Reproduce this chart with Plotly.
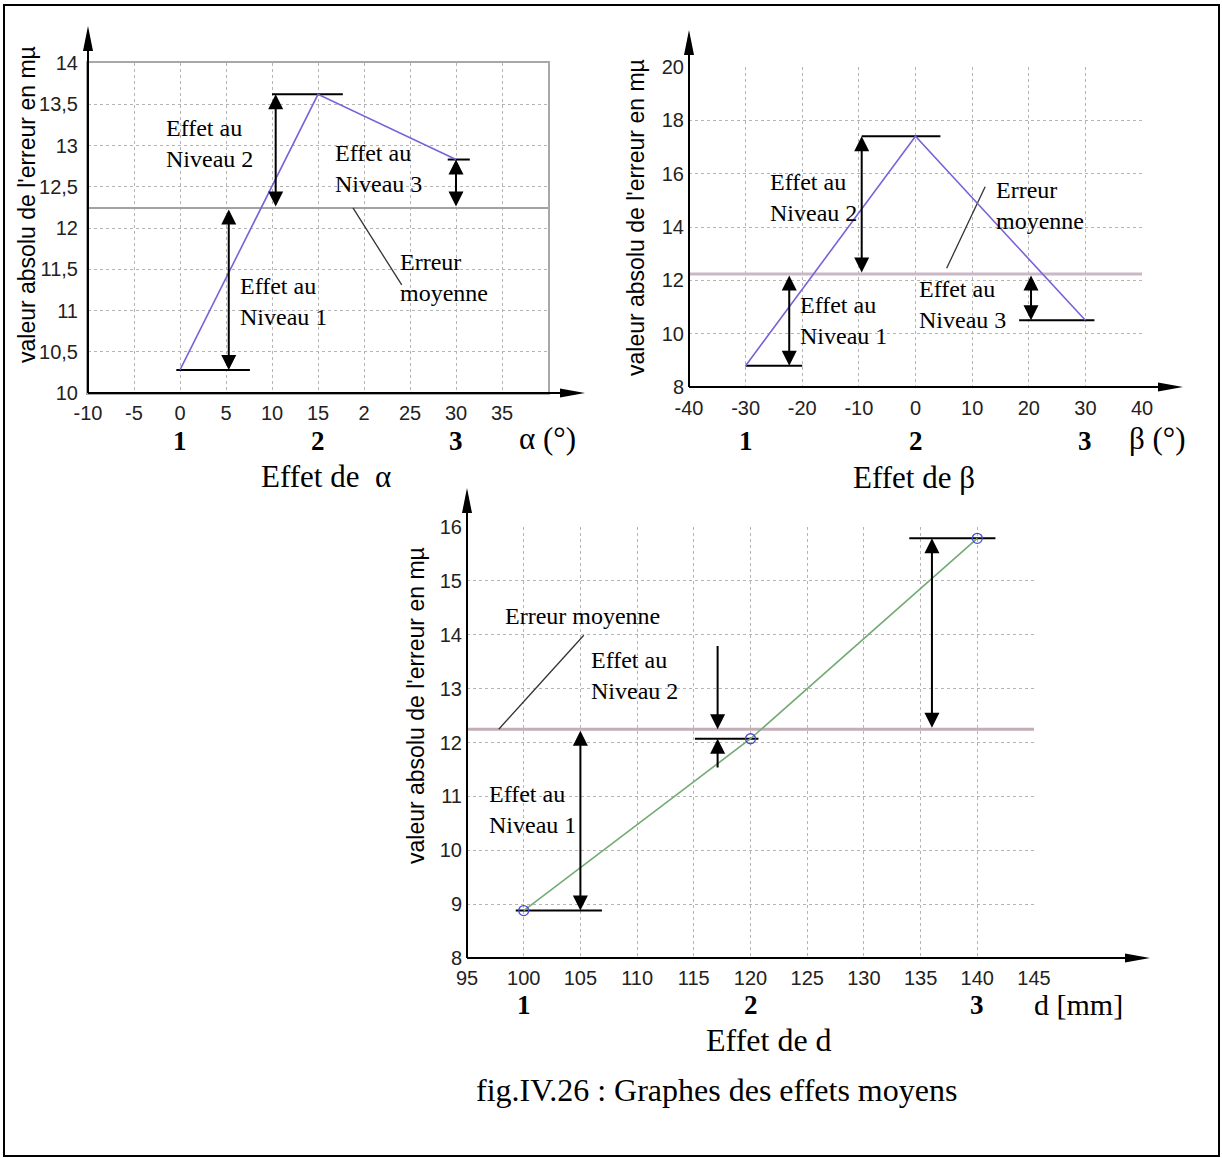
import plotly.graph_objects as go

W, H = 1222, 1158

# Mean absolute error (in µm) at the three levels of each factor
alpha_levels = [0, 15, 30]
alpha_error = [10.28, 13.62, 12.83]
beta_levels = [-30, 0, 30]
beta_error = [8.8, 17.4, 10.5]
d_levels = [100, 120, 140]
d_error = [8.88, 12.07, 15.79]
level_names = ["1", "2", "3"]

# Tick values / labels
alpha_xticks = [-10, -5, 0, 5, 10, 15, 20, 25, 30, 35]
alpha_xticktext = ["-10", "-5", "0", "5", "10", "15", "2", "25", "30", "35"]
alpha_yticks = [10, 10.5, 11, 11.5, 12, 12.5, 13, 13.5, 14]
alpha_yticktext = ["10", "10,5", "11", "11,5", "12", "12,5", "13", "13,5", "14"]
beta_xticks = [-40, -30, -20, -10, 0, 10, 20, 30, 40]
beta_yticks = [8, 10, 12, 14, 16, 18, 20]
d_xticks = [95, 100, 105, 110, 115, 120, 125, 130, 135, 140, 145]
d_yticks = [8, 9, 10, 11, 12, 13, 14, 15, 16]

SERIF = "Liberation Serif, Times New Roman, serif"
SANS = "Liberation Sans, Arial, sans-serif"


def mean(vals):
    return sum(vals) / len(vals)


def px(p):
    return p / W


def py(p):
    return 1 - p / H


# panel geometry (pixels) and axis ranges
panels = [
    dict(name="alpha", xa="x", ya="y", xpx=(88, 548), ypx=(63, 393), xr=(-10, 40), yr=(10, 14),
         levels=alpha_levels, err=alpha_error, color="#7b61d9", mean_color="#a2a2a2", mean_w=2,
         segs=[(-0.4, 7.6), (10.0, 17.7), (29.1, 31.5)], arrow_x=[5.3, 10.4, 30],
         leader=[(18.8, None), (24.1, 11.31)], xext=37, yext=37, box=True, xstand=1,
         xticks=alpha_xticks, xtt=alpha_xticktext, yticks=alpha_yticks, ytt=alpha_yticktext),
    dict(name="beta", xa="x2", ya="y2", xpx=(689, 1142), ypx=(67, 387), xr=(-40, 40), yr=(8, 20),
         levels=beta_levels, err=beta_error, color="#7b61d9", mean_color="#cbb8c6", mean_w=3,
         segs=[(-30, -20), (-9.5, 4.4), (18.3, 31.6)], arrow_x=[-22.3, -9.5, 20.4],
         leader=[(5.5, 12.45), (12.3, 15.51)], xext=41, yext=37, box=False, xstand=7,
         xticks=beta_xticks, xtt=[str(v) for v in beta_xticks], yticks=beta_yticks,
         ytt=[str(v) for v in beta_yticks]),
    dict(name="d", xa="x3", ya="y3", xpx=(467, 1034), ypx=(527, 958), xr=(95, 145), yr=(8, 16),
         levels=d_levels, err=d_error, color="#74ab74", mean_color="#c4adb8", mean_w=3,
         segs=[(99.3, 106.9), (115.1, 120.7), (134.0, 141.6)], arrow_x=[105, 117.1, 136],
         leader=[(97.8, None), (105.3, 13.99)], xext=116, yext=39, box=False, xstand=6,
         xticks=d_xticks, xtt=[str(v) for v in d_xticks], yticks=d_yticks,
         ytt=[str(v) for v in d_yticks]),
]

fig = go.Figure()
shapes = []
annotations = []
layout_axes = {}

for i, p in enumerate(panels):
    xa, ya = p["xa"], p["ya"]
    m = mean(p["err"])
    xkey = "xaxis" if i == 0 else f"xaxis{i + 1}"
    ykey = "yaxis" if i == 0 else f"yaxis{i + 1}"
    grid = dict(showgrid=True, gridcolor="#b4b4b4", griddash="dot", gridwidth=1, zeroline=False,
                ticks="", tickfont=dict(family=SANS, size=20, color="#222222"), fixedrange=True,
                showline=p["box"], mirror=p["box"], linecolor="#a8a8a8", linewidth=2,
                automargin=False)
    layout_axes[xkey] = dict(domain=[px(p["xpx"][0]), px(p["xpx"][1])], range=list(p["xr"]),
                             anchor=ya, tickmode="array", tickvals=p["xticks"], ticktext=p["xtt"],
                             ticklabelstandoff=p["xstand"], **grid)
    layout_axes[ykey] = dict(domain=[py(p["ypx"][1]), py(p["ypx"][0])], range=list(p["yr"]),
                             anchor=xa, tickmode="array", tickvals=p["yticks"], ticktext=p["ytt"],
                             ticklabelstandoff=4, **grid)

    # mean error line across the whole panel
    fig.add_trace(go.Scatter(x=list(p["xr"]), y=[m, m], mode="lines", xaxis=xa, yaxis=ya,
                             line=dict(color=p["mean_color"], width=p["mean_w"]),
                             hoverinfo="skip", showlegend=False))
    # level reference segments
    for (x0, x1), v in zip(p["segs"], p["err"]):
        fig.add_trace(go.Scatter(x=[x0, x1], y=[v, v], mode="lines", xaxis=xa, yaxis=ya,
                                 line=dict(color="black", width=2), hoverinfo="skip",
                                 showlegend=False))
    # leader line for the mean label
    (lx0, ly0), (lx1, ly1) = p["leader"]
    fig.add_trace(go.Scatter(x=[lx0, lx1], y=[m if ly0 is None else ly0, ly1], mode="lines",
                             xaxis=xa, yaxis=ya, line=dict(color="#333333", width=1.3),
                             hoverinfo="skip", showlegend=False))
    # effect curve
    mk = dict(symbol="circle-open", size=10, color="#4b4bd0", line=dict(width=1.3)) \
        if p["name"] == "d" else None
    fig.add_trace(go.Scatter(x=p["levels"], y=p["err"], mode="lines+markers" if mk else "lines",
                             xaxis=xa, yaxis=ya, marker=mk,
                             line=dict(color=p["color"], width=1.6), showlegend=False))

    # effect arrows between the mean and each level value
    arrow_kw = dict(showarrow=True, text="", arrowhead=2, arrowsize=1.5, arrowwidth=2,
                    arrowcolor="black", standoff=0, startstandoff=0, xref=xa, yref=ya,
                    axref=xa, ayref=ya, startarrowhead=2, startarrowsize=1.5)
    for k, (ax_, v) in enumerate(zip(p["arrow_x"], p["err"])):
        if p["name"] == "d" and k == 1:
            # small effect: arrows pointing inward from outside
            annotations.append(dict(x=ax_, y=m, ax=ax_, ay=13.82, arrowside="end", **arrow_kw))
            annotations.append(dict(x=ax_, y=v, ax=ax_, ay=11.51, arrowside="end", **arrow_kw))
        else:
            annotations.append(dict(x=ax_, y=v, ax=ax_, ay=m, arrowside="end+start", **arrow_kw))

    # black axes with arrowheads
    dref = dict(xref=f"{xa} domain", yref=f"{ya} domain")
    shapes.append(dict(type="line", x0=0, x1=0, y0=0, y1=1, line=dict(color="black", width=2), **dref))
    shapes.append(dict(type="line", x0=0, x1=1, y0=0, y1=0, line=dict(color="black", width=2), **dref))
    ye, xe = p["yext"], p["xext"]
    shapes.append(dict(type="line", xsizemode="pixel", ysizemode="pixel", xanchor=0, yanchor=1,
                       x0=0, x1=0, y0=0, y1=ye - 10, line=dict(color="black", width=2), **dref))
    shapes.append(dict(type="path", xsizemode="pixel", ysizemode="pixel", xanchor=0, yanchor=1,
                       path=f"M -5 {ye - 25} L 5 {ye - 25} L 0 {ye} Z", fillcolor="black",
                       line=dict(width=0), **dref))
    shapes.append(dict(type="line", xsizemode="pixel", ysizemode="pixel", xanchor=1, yanchor=0,
                       x0=0, x1=xe - 10, y0=0, y1=0, line=dict(color="black", width=2), **dref))
    shapes.append(dict(type="path", xsizemode="pixel", ysizemode="pixel", xanchor=1, yanchor=0,
                       path=f"M {xe - 25} -4.5 L {xe - 25} 4.5 L {xe} 0 Z", fillcolor="black",
                       line=dict(width=0), **dref))


def label(text, x, y, xref, yref, size=24, xanchor="left", yanchor="middle", family=SERIF,
          **kw):
    annotations.append(dict(text=text, x=x, y=y, xref=xref, yref=yref, showarrow=False,
                            xanchor=xanchor, yanchor=yanchor, align="left",
                            font=dict(family=family, size=size, color="black"), **kw))


# in-plot labels
label("Effet au<br>Niveau 2", -1.74, 13.02, "x", "y")
label("Effet au<br>Niveau 3", 16.6, 12.72, "x", "y")
label("Effet au<br>Niveau 1", 6.3, 11.11, "x", "y")
label("Erreur<br>moyenne", 23.7, 11.4, "x", "y")

label("Effet au<br>Niveau 2", -26.0, 15.11, "x2", "y2")
label("Erreur<br>moyenne", 13.9, 14.8, "x2", "y2")
label("Effet au<br>Niveau 1", -20.7, 10.48, "x2", "y2")
label("Effet au<br>Niveau 3", 0.3, 11.11, "x2", "y2")

label("Erreur moyenne", 98.2, 14.35, "x3", "y3")
label("Effet au<br>Niveau 2", 105.8, 13.25, "x3", "y3")
label("Effet au<br>Niveau 1", 96.8, 10.75, "x3", "y3")

# level numbers under each x axis
for xa, lv, ypix in [("x", alpha_levels, 441), ("x2", beta_levels, 441), ("x3", d_levels, 1005)]:
    for name, v in zip(level_names, lv):
        label(f"<b>{name}</b>", v, py(ypix), xa, "paper", size=27, xanchor="center")

label("α (°)", px(547), py(439), "paper", "paper", size=31, xanchor="center")
label("β (°)", px(1157), py(439), "paper", "paper", size=31, xanchor="center")
label("d [mm]", px(1078), py(1004), "paper", "paper", size=30, xanchor="center")

label("Effet de\u00a0\u00a0α", px(326), py(476), "paper", "paper", size=31, xanchor="center")
label("Effet de β", px(914), py(477), "paper", "paper", size=31, xanchor="center")
label("Effet de d", px(769), py(1040), "paper", "paper", size=32, xanchor="center")
label("fig.IV.26 : Graphes des effets moyens", px(716), py(1090), "paper", "paper", size=32,
      xanchor="center")

# y axis titles
for xpix, ypix in [(27, 205), (636, 218), (416, 706)]:
    label("valeur absolu de l'erreur en mµ", px(xpix), py(ypix), "paper", "paper", size=23,
          xanchor="center", family=SANS, textangle=-90)

# outer frame
shapes.append(dict(type="rect", xref="paper", yref="paper", x0=px(4), x1=px(1219), y0=py(1156),
                   y1=py(5), line=dict(color="black", width=2), layer="above"))

fig.update_layout(width=W, height=H, autosize=False,
                  margin=dict(l=0, r=0, t=0, b=0, pad=0, autoexpand=False),
                  paper_bgcolor="white", plot_bgcolor="white", shapes=shapes,
                  annotations=annotations, showlegend=False, **layout_axes)

fig.write_html("out.html",
               post_script="document.body.style.margin='0';"
                           "document.body.style.overflow='hidden';")
